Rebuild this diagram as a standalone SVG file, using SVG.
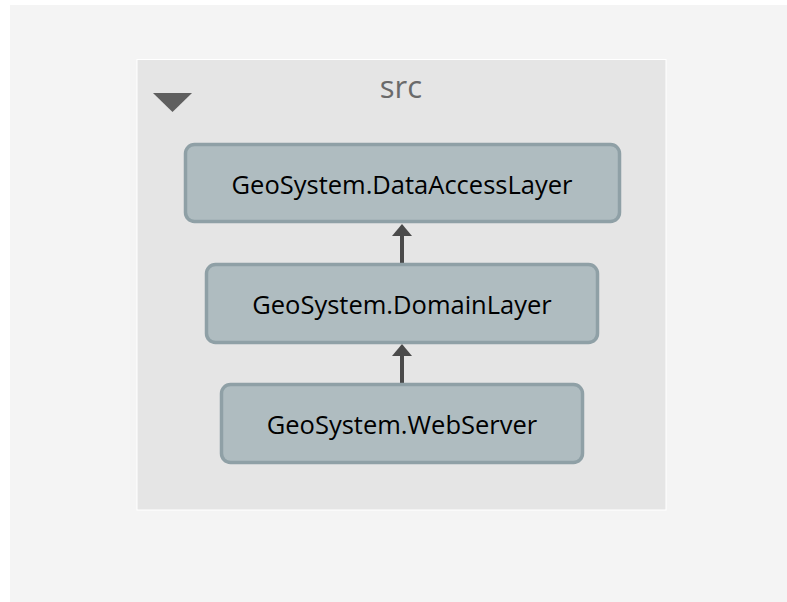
<svg xmlns="http://www.w3.org/2000/svg" width="787" height="602" viewBox="0 0 787 602">
  <defs>
    <style>
      .node rect { fill: #afbcc0; stroke: #8fa0a6; stroke-width: 3.5; }
      .node text { font-family: "Open Sans", "Noto Sans", sans-serif; font-size: 25.5px; fill: #000; text-anchor: middle; }
      .edge { stroke: #4a4a4a; stroke-width: 4; fill: none; }
      .head { fill: #4a4a4a; }
    </style>
  </defs>
  <rect x="0" y="0" width="787" height="602" fill="#ffffff"/>
  <rect x="10" y="5" width="777" height="597" fill="#f4f4f4"/>
  <g id="group-src">
    <rect x="137" y="59.5" width="529" height="450.5" fill="#e5e5e5" stroke="#ffffff" stroke-width="1"/>
    <polygon points="153,93 192,93 172.5,112" fill="#5f5f5f"/>
    <text x="401" y="98" font-family="'Open Sans', 'Noto Sans', sans-serif" font-size="31" fill="#6a6a6a" text-anchor="middle">src</text>
  </g>
  <g id="connectors">
    <line class="edge" x1="402" y1="263" x2="402" y2="234"/>
    <polygon class="head" points="402,224 392,236 412,236"/>
    <line class="edge" x1="402" y1="383" x2="402" y2="354"/>
    <polygon class="head" points="402,344 392,356 412,356"/>
  </g>
  <g id="node-dataaccess" class="node">
    <rect x="185.5" y="144.5" width="434" height="77" rx="9"/>
    <text x="402" y="194">GeoSystem.DataAccessLayer</text>
  </g>
  <g id="node-domain" class="node">
    <rect x="206.5" y="264.5" width="391" height="78" rx="9"/>
    <text x="402" y="314">GeoSystem.DomainLayer</text>
  </g>
  <g id="node-webserver" class="node">
    <rect x="221.5" y="384.5" width="361" height="78" rx="9"/>
    <text x="402" y="434">GeoSystem.WebServer</text>
  </g>
</svg>
